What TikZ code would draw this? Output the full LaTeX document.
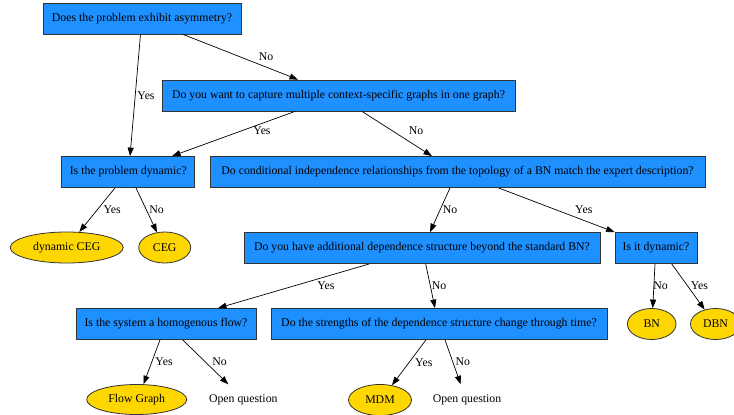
\documentclass[tikz,border=0pt]{standalone}
\usepackage{fontspec}
\setmainfont{Liberation Serif}
\usetikzlibrary{shapes.geometric,arrows.meta}
\definecolor{qblue}{HTML}{1E90FF}
\definecolor{qgold}{HTML}{FFD700}
\tikzset{
  qbox/.style={draw=black!80,line width=0.8pt,fill=qblue,rectangle,inner sep=0pt,minimum height=31pt,font=\fontsize{11.8}{14}\selectfont},
  qleaf/.style={draw=black!80,line width=0.8pt,fill=qgold,ellipse,inner sep=0pt,minimum height=31pt,font=\fontsize{11.8}{14}\selectfont},
  qplain/.style={inner sep=0pt,minimum height=31pt,font=\fontsize{11.8}{14}\selectfont},
  qarr/.style={draw=black,line width=0.7pt,-{Triangle[length=8.5pt,width=6pt]}},
  qlbl/.style={inner sep=0pt,font=\fontsize{11.8}{14}\selectfont}
}
\begin{document}
\begin{tikzpicture}[x=1pt,y=-1pt]
\useasboundingbox (0,0) rectangle (734,415);
\clip (0,0) rectangle (734,415);
\node[qbox,minimum width=198pt] (A) at (142,18.5) {Does the problem exhibit asymmetry?};
\node[qbox,minimum width=353pt] (B) at (338.5,95.5) {Do you want to capture multiple context-specific graphs in one graph?};
\node[qbox,minimum width=133pt] (C) at (128.3,172) {Is the problem dynamic?};
\node[qbox,minimum width=495pt] (D) at (457.5,172) {Do conditional independence relationships from the topology of a BN match the expert description?};
\node[qbox,minimum width=356pt] (E) at (422,248) {Do you have additional dependence structure beyond the standard BN?};
\node[qbox,minimum width=82pt] (F) at (656,248) {Is it dynamic?};
\node[qleaf,minimum width=113pt] (G) at (66.7,247.5) {dynamic CEG};
\node[qleaf,minimum width=52pt] (H) at (164.7,247.5) {CEG};
\node[qbox,minimum width=180pt] (I) at (166,324) {Is the system a homogenous flow?};
\node[qbox,minimum width=336pt] (J) at (439,324) {Do the strengths of the dependence structure change through time?};
\node[qleaf,minimum width=100pt,minimum height=30pt] (K) at (136.7,399.5) {Flow Graph};
\node[qplain] (L) at (243.3,400) {Open question};
\node[qleaf,minimum width=63pt] (M) at (380,400) {MDM};
\node[qplain] (N) at (467,400) {Open question};
\node[qleaf,minimum width=48.6pt] (O) at (651.7,324) {BN};
\node[qleaf,minimum width=50pt] (P) at (715.5,324) {DBN};

\draw[qarr] ([xshift=-1.5pt]A.south) -- node[qlbl,pos=0.5,xshift=10.75pt,yshift=-0.75pt]{Yes} ([xshift=1.7pt]C.north);
\draw[qarr] ([xshift=41pt]A.south) -- node[qlbl,pos=0.5,xshift=25.5pt]{No} ([xshift=-40.5pt]B.north);
\draw[qarr] ([xshift=-43.5pt]B.south) -- node[qlbl,pos=0.5,xshift=28.5pt,yshift=2.75pt]{Yes} ([xshift=43.7pt]C.north);
\draw[qarr] ([xshift=23.5pt]B.south) -- node[qlbl,pos=0.5,xshift=19pt,yshift=2.75pt]{No} ([xshift=-25.5pt]D.north);
\draw[qarr] ([xshift=-13.3pt]C.south) -- node[qlbl,pos=0.5,xshift=15pt]{Yes} (G.51);
\draw[qarr] ([xshift=7.7pt]C.south) -- node[qlbl,pos=0.5,xshift=10.2pt]{No} (H.117);
\draw[qarr] ([xshift=-7.5pt]D.south) -- node[qlbl,pos=0.5,xshift=10pt]{No} ([xshift=8pt]E.north);
\draw[qarr] ([xshift=41pt]D.south) -- node[qlbl,pos=0.5,xshift=27.25pt]{Yes} (F.north west);
\draw[qarr] ([xshift=-52.7pt]E.south) -- node[qlbl,pos=0.5,xshift=32.3pt]{Yes} ([xshift=52pt]I.north);
\draw[qarr] ([xshift=3.7pt]E.south) -- node[qlbl,pos=0.5,xshift=8.7pt]{No} ([xshift=-4pt]J.north);
\draw[qarr] ([xshift=-1pt]F.south) -- node[qlbl,pos=0.5,xshift=6.7pt]{No} ([xshift=1pt]O.north);
\draw[qarr] ([xshift=15.7pt]F.south) -- node[qlbl,pos=0.5,xshift=11.3pt,yshift=1pt]{Yes} (P.127);
\draw[qarr] ([xshift=-6pt]I.south) -- node[qlbl,pos=0.5,xshift=12.3pt]{Yes} (K.66);
\draw[qarr] ([xshift=16.7pt]I.south) -- node[qlbl,pos=0.5,xshift=14pt]{No} ([xshift=-15pt]L.north);
\draw[qarr] ([xshift=-13pt]J.south) -- node[qlbl,pos=0.5,xshift=14.8pt]{Yes} (M.51);
\draw[qarr] ([xshift=6pt]J.south) -- node[qlbl,pos=0.5,xshift=10pt]{No} ([xshift=-6.3pt]N.north);
\end{tikzpicture}
\end{document}
